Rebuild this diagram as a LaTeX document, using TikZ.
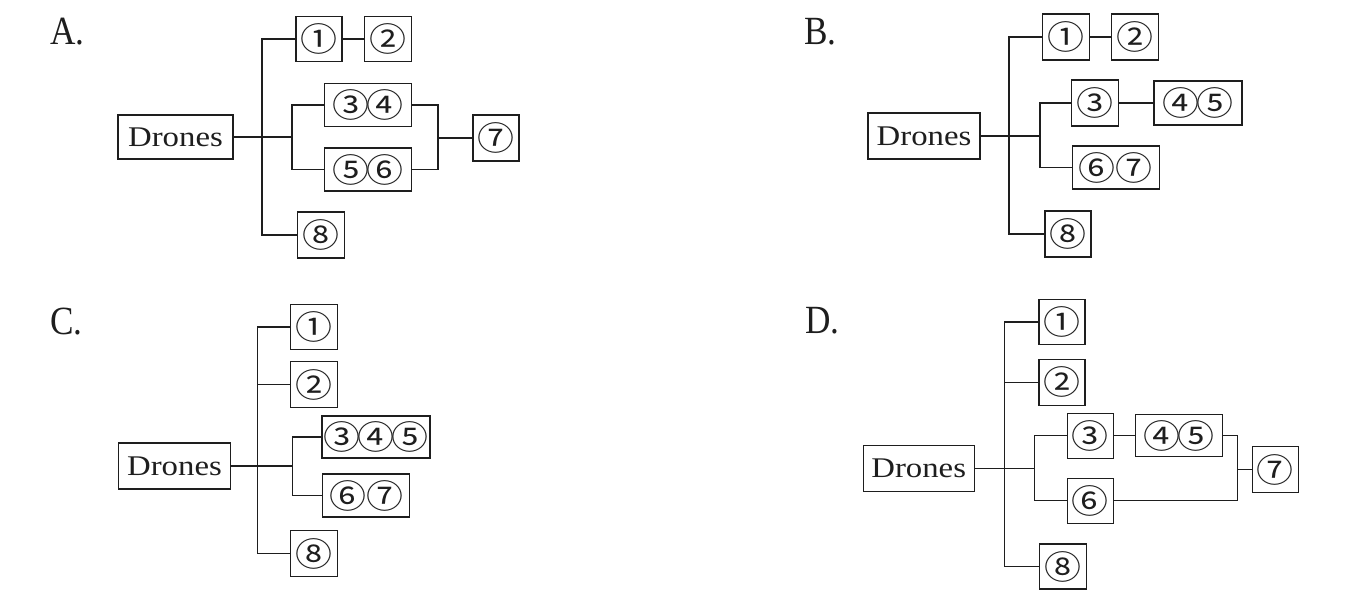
\documentclass[tikz,border=0pt]{standalone}
\usepackage{fontspec}
\usepackage{graphicx}
\setmainfont{Liberation Serif}
\newfontfamily\cjk{Noto Sans CJK SC}
\definecolor{ink}{HTML}{1E1E1E}
\newcommand{\cd}[1]{\scalebox{1.12}[1]{\fontsize{33}{33}\selectfont\cjk #1}}
\newcommand{\dr}{\scalebox{1.15}[1]{\fontsize{28.5}{28.5}\selectfont Drones}}
\newcommand{\lb}[1]{\scalebox{0.88}[1]{#1}}
\newcommand{\tk}{\kern-2.5pt}
\begin{document}
\begin{tikzpicture}[x=1pt,y=-1pt,
  bx/.style 2 args={draw=ink, text=ink, line width=1.3pt, inner sep=0pt,
    minimum width=#1, minimum height=#2},
  wire/.style={draw=ink, line width=1.2pt},
  lab/.style={anchor=base west, inner sep=0pt, text=ink, font=\fontsize{40}{40}\selectfont}]
\useasboundingbox[fill=white] (0,0) rectangle (1360,597);

% ---------- A ----------
\node[lab] (la) at (50,44) {\lb{A.}};
\node[bx={115pt}{44pt}] (aD) at (175.5,137) {\dr};
\node[bx={46pt}{45pt}] (a1) at (319,39) {\cd{①}};
\node[bx={47pt}{45pt}] (a2) at (388,39) {\cd{②}};
\node[bx={87pt}{43pt}] (a34) at (368,105) {\cd{③\tk④}};
\node[bx={87pt}{43pt}] (a56) at (368,169.5) {\cd{⑤\tk⑥}};
\node[bx={46pt}{46pt}] (a7) at (496,138) {\cd{⑦}};
\node[bx={47pt}{46pt}] (a8) at (321,235) {\cd{⑧}};
\coordinate (aT) at (262,137);
\coordinate (aS) at (292,137);
\coordinate (aM) at (438,138);
\draw[wire] (aD.east) -- (aS);
\draw[wire] (a1.west) -| (aT) |- (a8.west);
\draw[wire] (a1.east) -- (a2.west);
\draw[wire] (a34.west) -| (aS) |- (a56.west);
\draw[wire] (a34.east) -| (aM) |- (a56.east);
\draw[wire] (aM) -- (a7.west);

% ---------- B ----------
\node[lab] (lbB) at (804,44) {\lb{B.}};
\node[bx={112pt}{46pt}] (bD) at (924,136) {\dr};
\node[bx={47pt}{46pt}] (b1) at (1065.7,37) {\cd{①}};
\node[bx={47pt}{46pt}] (b2) at (1135,37) {\cd{②}};
\node[bx={47pt}{46pt}] (b3) at (1095,103) {\cd{③}};
\node[bx={88pt}{44pt}] (b45) at (1198,103) {\cd{④\tk⑤}};
\node[bx={87pt}{43pt}] (b67) at (1115.7,167.5) {\cd{⑥⑦}};
\node[bx={46pt}{46pt}] (b8) at (1068,234) {\cd{⑧}};
\coordinate (bT) at (1009,136);
\coordinate (bS) at (1040,136);
\draw[wire] (bD.east) -- (bS);
\draw[wire] (b1.west) -| (bT) |- (b8.west);
\draw[wire] (b1.east) -- (b2.west);
\draw[wire] (b3.west) -| (bS) |- (b67.west);
\draw[wire] (b3.east) -- (b45.west);

% ---------- C ----------
\node[lab] (lc) at (50,334) {\lb{C.}};
\node[bx={112pt}{46pt}] (cD) at (174.5,466) {\dr};
\node[bx={47pt}{45pt}] (c1) at (314.3,327) {\cd{①}};
\node[bx={47pt}{46pt}] (c2) at (314.3,384.5) {\cd{②}};
\node[bx={108pt}{42pt}] (c345) at (376,437) {\cd{③\tk④\tk⑤}};
\node[bx={87pt}{43pt}] (c67) at (366,495.5) {\cd{⑥⑦}};
\node[bx={47pt}{46pt}] (c8) at (314.3,553.5) {\cd{⑧}};
\coordinate (cT) at (257.5,466);
\coordinate (cS) at (292.5,466);
\draw[wire] (cD.east) -- (cS);
\draw[wire] (c1.west) -| (cT) |- (c8.west);
\draw[wire] (c2.west) -- (c2.west -| cT);
\draw[wire] (c345.west) -| (cS) |- (c67.west);

% ---------- D ----------
\node[lab] (ld) at (805,333) {\lb{D.}};
\node[bx={111pt}{46pt}] (dD) at (918.7,468.5) {\dr};
\node[bx={46pt}{45pt}] (d1) at (1062,322) {\cd{①}};
\node[bx={46pt}{46pt}] (d2) at (1062,382.3) {\cd{②}};
\node[bx={46pt}{45pt}] (d3) at (1090.3,435.7) {\cd{③}};
\node[bx={87pt}{42pt}] (d45) at (1179.3,435.7) {\cd{④\tk⑤}};
\node[bx={46pt}{45pt}] (d6) at (1090.3,500.7) {\cd{⑥}};
\node[bx={46pt}{46pt}] (d7) at (1275.3,469.5) {\cd{⑦}};
\node[bx={47pt}{45pt}] (d8) at (1062.7,566.5) {\cd{⑧}};
\coordinate (dT) at (1004.5,468.5);
\coordinate (dS) at (1034.5,468.5);
\coordinate (dM) at (1237.7,469.5);
\draw[wire] (dD.east) -- (dS);
\draw[wire] (d1.west) -| (dT) |- (d8.west);
\draw[wire] (d2.west) -- (d2.west -| dT);
\draw[wire] (d3.west) -| (dS) |- (d6.west);
\draw[wire] (d3.east) -- (d45.west);
\draw[wire] (d45.east) -| (dM) |- (d6.east);
\draw[wire] (dM) -- (d7.west);
\end{tikzpicture}
\end{document}
